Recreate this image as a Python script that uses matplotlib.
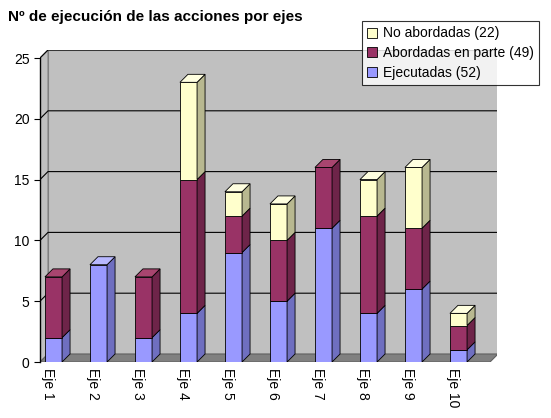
import matplotlib
matplotlib.use("Agg")
import matplotlib.pyplot as plt
from matplotlib.patches import Polygon, Patch

categories = ["Eje 1","Eje 2","Eje 3","Eje 4","Eje 5","Eje 6","Eje 7","Eje 8","Eje 9","Eje 10"]
ejecutadas = [2, 8, 2, 4, 9, 5, 11, 4, 6, 1]
abordadas  = [5, 0, 5, 11, 3, 5, 5, 8, 5, 2]
no_abord   = [0, 0, 0, 8, 2, 3, 0, 3, 5, 1]
series = [("Ejecutadas (52)", ejecutadas, "#9999ff", "#6f6fc0", "#b8b8ff"),
          ("Abordadas en parte (49)", abordadas, "#993366", "#6e2449", "#a8456f"),
          ("No abordadas (22)", no_abord, "#ffffcc", "#b8b890", "#ffffe0")]
yticks = [0, 5, 10, 15, 20, 25]

plt.rcParams['font.family'] = ['Liberation Sans', 'DejaVu Sans']
fig = plt.figure(figsize=(5.51, 4.18), dpi=100)
W, H = 551, 418
x0, x1, yb, yt = 40, 497, 362, 50
ax = fig.add_axes([x0/W, 1-yb/H, (x1-x0)/W, (yb-yt)/H])
pxu_x = 45.0
pxu_y = 304/25
ax.set_xlim(0, (x1-x0)/pxu_x)
ax.set_ylim(0, (yb-yt)/pxu_y)
dx, dy = 8/pxu_x, 8/pxu_y
n = len(categories)
xr = n

ax.add_patch(Polygon([(dx, dy), (xr+dx, dy), (xr+dx, 25+dy), (dx, 25+dy)], closed=True, fc="#c0c0c0", ec="#808080", lw=0.8, zorder=0))
ax.add_patch(Polygon([(0, 0), (dx, dy), (dx, 25+dy), (0, 25)], closed=True, fc="#c0c0c0", ec="#808080", lw=0.8, zorder=0))
ax.add_patch(Polygon([(0, 0), (xr, 0), (xr+dx, dy), (dx, dy)], closed=True, fc="#808080", ec="#606060", lw=0.8, zorder=0))
for t in yticks[1:]:
    ax.plot([0, dx, xr+dx], [t, t+dy, t+dy], color="black", lw=0.8, zorder=1)
ax.plot([0, 0], [0, 25], color="black", lw=1, zorder=5, clip_on=False)

bw = 0.38
for i in range(n):
    xl = i + 0.11
    base = 0
    for name, vals, c, cs, ct in series:
        v = vals[i]
        if v == 0:
            continue
        top = base + v
        ax.add_patch(Polygon([(xl, base), (xl+bw, base), (xl+bw, top), (xl, top)], closed=True, fc=c, ec="black", lw=0.6, zorder=3))
        ax.add_patch(Polygon([(xl+bw, base), (xl+bw+dx, base+dy), (xl+bw+dx, top+dy), (xl+bw, top)], closed=True, fc=cs, ec="black", lw=0.6, zorder=3))
        base = top
    topc = [s for s in series if s[1][i] > 0][-1][4]
    ax.add_patch(Polygon([(xl, base), (xl+bw, base), (xl+bw+dx, base+dy), (xl+dx, base+dy)], closed=True, fc=topc, ec="black", lw=0.6, zorder=3))

ax.set_yticks(yticks)
ax.set_yticklabels([str(t) for t in yticks], fontsize=10)
ax.set_xticks([i + 0.11 + bw/2 - 0.12 for i in range(n)])
ax.set_xticklabels(categories, rotation=270, fontsize=10)
ax.tick_params(axis='x', length=0, pad=4)
ax.tick_params(axis='y', length=4, direction='out')
for s in ax.spines.values():
    s.set_visible(False)
ax.patch.set_visible(False)

fig.text(8/W, 1-17/H, "Nº de ejecución de las acciones por ejes", fontsize=11, fontweight="bold", va="center")
handles = [Patch(fc=s[2], ec="black", lw=0.6, label=s[0]) for s in reversed(series)]
leg = fig.legend(handles=handles, loc="upper right", bbox_to_anchor=(546/W, 1-14/H), fontsize=10,
                 frameon=True, fancybox=False, edgecolor="black", handlelength=0.7, handleheight=0.7,
                 handletextpad=0.4, borderpad=0.4, labelspacing=0.4)
leg.get_frame().set_linewidth(0.8)
fig.savefig("out.png", dpi=100, facecolor="white")
